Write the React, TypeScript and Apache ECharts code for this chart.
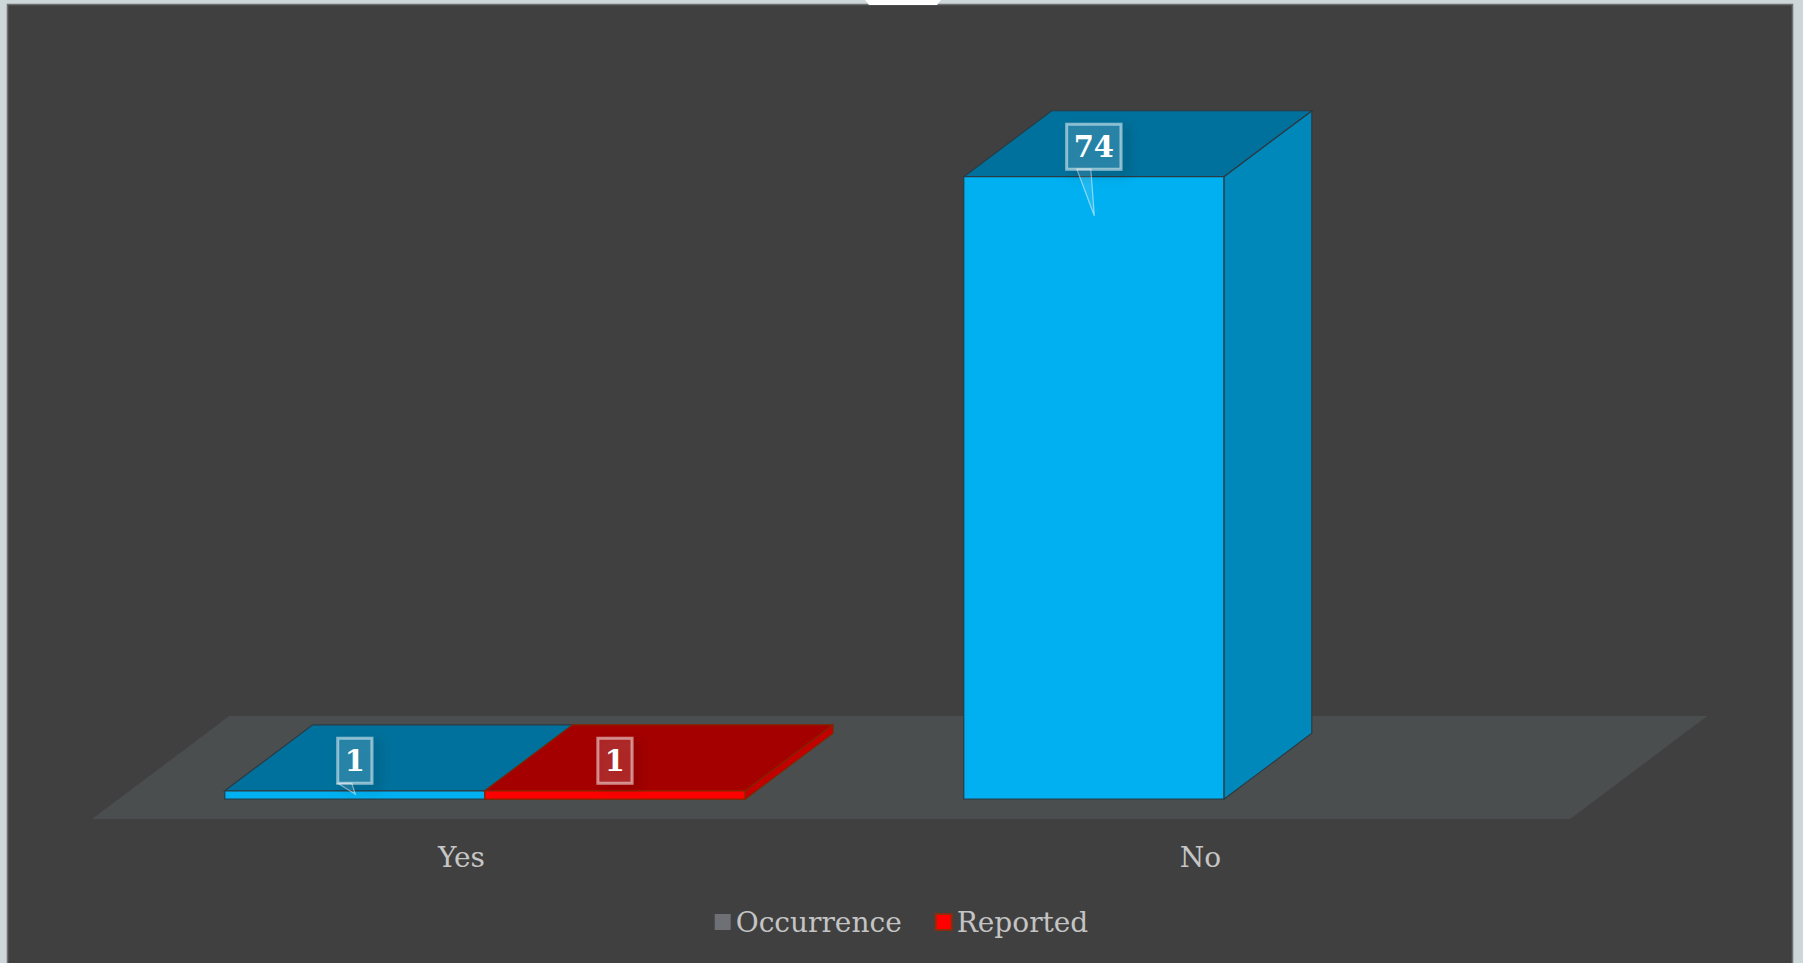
import React, { useEffect, useRef } from "react";
import * as echarts from "echarts";

const categories = ["Yes", "No"];
const seriesNames = ["Occurrence", "Reported"];
const occurrence: (number | null)[] = [1, 74];
const reported: (number | null)[] = [1, null];

const W = 1803;
const H = 963;
const FONT = "'DejaVu Serif', Georgia, serif";

const palettes = [
  { front: "#00b0f0", top: "#00719c", side: "#0088ba", stroke: "#2c3a42", pointer: true, legend: "#6e7076" },
  { front: "#ff0000", top: "#a40000", side: "#c20000", stroke: "#842400", pointer: false, legend: "#ff0000" },
];

export default function App() {
  const ref = useRef<HTMLDivElement>(null);
  useEffect(() => {
    const chart = echarts.init(ref.current as HTMLDivElement, null, { renderer: "svg" });

    const makeRender = (si: number) => (params: any, api: any) => {
      const v = api.value(1);
      if (v == null || isNaN(v)) return null;
      const cat = api.value(0);
      const band = api.size([1, 0])[0];
      const dx = band * 0.119;
      const dy = dx * 0.75;
      const barW = band * 0.352;
      const top = api.coord([cat, v]);
      const base = api.coord([cat, 0]);
      const cx = top[0] + 0.3 * dx - 3;
      const x0 = cx - barW + si * barW;
      const x1 = x0 + barW;
      const yT = top[1] - 0.3 * dy;
      const yB = base[1] - 0.3 * dy;
      const p = palettes[si];
      const children: any[] = [
        {
          type: "polygon",
          shape: { points: [[x1, yT], [x1 + dx, yT - dy], [x1 + dx, yB - dy], [x1, yB]] },
          style: { fill: p.side, stroke: p.stroke, lineWidth: 1.2 },
        },
        {
          type: "polygon",
          shape: { points: [[x0, yT], [x0 + dx, yT - dy], [x1 + dx, yT - dy], [x1, yT]] },
          style: { fill: p.top, stroke: p.stroke, lineWidth: 1.2 },
        },
        {
          type: "rect",
          shape: { x: x0, y: yT, width: barW, height: Math.max(yB - yT, 0.5) },
          style: { fill: p.front, stroke: p.stroke, lineWidth: 1.2 },
        },
      ];
      const bx = x0 + barW / 2;
      const by = yT - 30;
      if (p.pointer) {
        const tipY = Math.min(yT + 39, yB - 5);
        children.push({
          type: "polygon",
          shape: { points: [[bx - 17, by + 22.5], [bx - 3, by + 22.5], [bx + 0.5, tipY]] },
          style: { fill: "rgba(255,255,255,0.12)", stroke: "rgba(255,255,255,0.5)", lineWidth: 1.2 },
        });
      }
      children.push({
        type: "text",
        x: bx,
        y: by,
        style: {
          text: String(v),
          fill: "#ffffff",
          font: `bold 29px ${FONT}`,
          align: "center",
          verticalAlign: "middle",
          lineHeight: 29,
          padding: [8, 7, 8, 7],
          backgroundColor: "rgba(255,255,255,0.12)",
          borderColor: "rgba(255,255,255,0.5)",
          borderWidth: 1.5,
          shadowBlur: 12,
          shadowColor: "rgba(0,0,0,0.45)",
          shadowOffsetX: 6,
          shadowOffsetY: 4,
        },
      });
      return { type: "group", children };
    };

    const floorRender = (params: any, api: any) => {
      const cs = params.coordSys;
      const band = api.size([1, 0])[0];
      const dx = band * 0.119 * 1.56;
      const dy = dx * 0.75;
      const yF = cs.y + cs.height;
      return {
        type: "polygon",
        shape: {
          points: [
            [cs.x, yF],
            [cs.x + cs.width, yF],
            [cs.x + cs.width + dx, yF - dy],
            [cs.x + dx, yF - dy],
          ],
        },
        style: { fill: "#4a4e4f" },
      };
    };

    const toData = (arr: (number | null)[]) => arr.map((v, i) => [i, v == null ? NaN : v]);

    chart.setOption({
      animation: false,
      backgroundColor: "#cdd6d9",
      graphic: [
        {
          type: "rect",
          z: -10,
          shape: { x: 7.5, y: 4.5, width: 1785, height: 970 },
          style: { fill: "#404040", stroke: "#6f6f6f", lineWidth: 1.5 },
        },
        {
          type: "polygon",
          z: -9,
          shape: { points: [[865, 0], [941, 0], [937, 5], [869, 5]] },
          style: { fill: "#ffffff" },
        },
      ],
      grid: { left: 92, right: W - 1570, top: 146, bottom: H - 819 },
      xAxis: {
        type: "category",
        data: categories,
        axisLine: { show: false },
        axisTick: { show: false },
        splitLine: { show: false },
        axisLabel: { color: "#c6c6c6", fontSize: 28, fontFamily: FONT, margin: 24 },
      },
      yAxis: { type: "value", min: 0, max: 80, show: false, splitLine: { show: false } },
      legend: {
        data: [
          { name: seriesNames[0], icon: "rect", itemStyle: { color: palettes[0].legend } },
          { name: seriesNames[1], icon: "rect", itemStyle: { color: palettes[1].legend, borderColor: "#8b2c0c", borderWidth: 2 } },
        ],
        top: 903,
        left: "center",
        itemWidth: 16,
        itemHeight: 16,
        itemGap: 33,
        textStyle: { color: "#c4c4c4", fontSize: 28, fontFamily: FONT },
        selectedMode: false,
      },
      series: [
        {
          type: "custom",
          name: "floor",
          z: 1,
          silent: true,
          renderItem: floorRender,
          data: [[0, 0]],
          encode: { x: 0, y: 1 },
        },
        {
          type: "custom",
          name: seriesNames[0],
          z: 3,
          itemStyle: { color: palettes[0].legend },
          renderItem: makeRender(0),
          data: toData(occurrence),
          encode: { x: 0, y: 1 },
        },
        {
          type: "custom",
          name: seriesNames[1],
          z: 3,
          itemStyle: { color: palettes[1].legend },
          renderItem: makeRender(1),
          data: toData(reported),
          encode: { x: 0, y: 1 },
        },
      ],
    });
    return () => chart.dispose();
  }, []);

  return (
    <div style={{ position: "fixed", left: 0, top: 0, width: W, height: H, overflow: "hidden" }}>
      <div ref={ref} style={{ width: W, height: H }} />
    </div>
  );
}
